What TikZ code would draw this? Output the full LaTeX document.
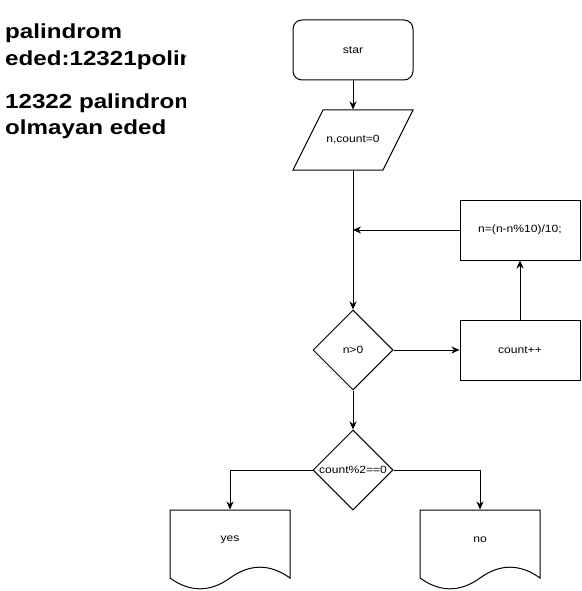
\documentclass[tikz,border=0pt]{standalone}
\usepackage{fontspec}
\setmainfont{Liberation Sans}[FakeStretch=1.15]
\newfontfamily\notefont{Liberation Sans}[FakeStretch=1.19]
\usetikzlibrary{shapes.geometric, arrows.meta}

\tikzset{
  flow/.style={line width=1pt, -{Stealth[length=8pt, width=7pt, inset=2.5pt]}},
  box/.style={draw, line width=1pt, minimum width=120pt, minimum height=60pt, inner sep=0pt, font=\fontsize{10.5}{12}\selectfont},
  startbox/.style={box, rounded corners=9pt},
  inputbox/.style={box, draw=none, minimum width=90pt},
  decision/.style={box, diamond, minimum width=80pt, minimum height=80pt},
  docbox/.style={box, draw=none},
  note/.style={anchor=base west, inner sep=0pt, font=\notefont\fontsize{20.3}{24}\selectfont\bfseries}
}
% slanted input box round a named node
\newcommand{\inoutline}[1]{%
  \draw[line width=1pt, shift={(#1.center)}] (-30,-30) -- (60,-30) -- (30,30) -- (-60,30) -- cycle;}
% document shape round a named node (wavy bottom)
\newcommand{\docoutline}[1]{%
  \draw[line width=1pt, shift={(#1.center)}] (-60,-30) -- (60,-30) -- (60,38)
    .. controls (40,23.6) and (20,23.6) .. (0,38)
    .. controls (-20,52.4) and (-40,52.4) .. (-60,38) -- cycle;}

\begin{document}
\begin{tikzpicture}[x=1pt, y=-1pt]
  \useasboundingbox (0,0) rectangle (581,591);

  % notes, cut off at the right
  \begin{scope}
    \clip (0,0) rectangle (185,150);
    \node[note] (note1a) at (5,38.3) {palindrom};
    \node[note] (note1b) at (5,65.7) {eded:12321polin};
    \node[note] (note2a) at (5,108.7) {12322 palindrom};
    \node[note] (note2b) at (5,135) {olmayan eded};
  \end{scope}

  \node[startbox] (start) at (353,50) {star};
  \node[inputbox] (input) at (353,140) {n,count=0};
  \inoutline{input}
  \coordinate (merge) at (353,230);
  \node[box] (update) at (520,230) {n=(n-n\%10)/10;};
  \node[decision] (loop) at (353,350) {n>0};
  \node[box] (count) at (520,350) {count++};
  \node[decision] (even) at (353,470) {count\%2==0};
  \node[docbox] (yes) at (230,540) {yes};
  \node[docbox] (no) at (480,540) {no};
  \docoutline{yes}
  \docoutline{no}

  \draw[flow] (start) -- (input);
  \draw[flow] (input) -- (loop);
  \draw[flow] (update) -- (merge);
  \draw[flow] (loop) -- (count);
  \draw[flow] (count) -- (update);
  \draw[flow] (loop) -- (even);
  \draw[flow] (even.west) -| (yes.north);
  \draw[flow] (even.east) -| (no.north);
\end{tikzpicture}
\end{document}
